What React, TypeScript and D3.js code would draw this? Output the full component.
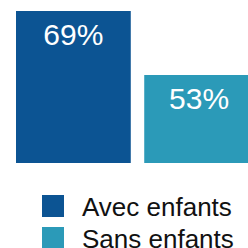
import { useEffect, useRef } from "react";
import * as d3 from "d3";

const categories = ["Avec enfants", "Sans enfants"];
const values = [69, 53];
const colors = ["#0c5493", "#2b9ab8"];

export default function App() {
  const svgRef = useRef<SVGSVGElement>(null);

  useEffect(() => {
    const width = 248,
      height = 248;
    const svg = d3.select(svgRef.current);
    svg.selectAll("*").remove();
    svg.attr("width", width).attr("height", height);

    const x = d3.scaleBand<string>()
      .domain(categories)
      .range([16, 259])
      .paddingInner(0.105)
      .paddingOuter(0);

    const y = d3.scaleLinear().domain([31, 69]).range([163, 11]);

    const g = svg.append("g");
    g.selectAll("rect")
      .data(values)
      .join("rect")
      .attr("x", (d, i) => x(categories[i])!)
      .attr("y", (d) => y(d))
      .attr("width", x.bandwidth())
      .attr("height", (d) => y(31) - y(d))
      .style("fill", (d, i) => colors[i]);

    // value labels
    g.selectAll("text")
      .data(values)
      .join("text")
      .attr("x", (d, i) => x(categories[i])! + x.bandwidth() / 2 - (i === 1 ? 2.5 : 0))
      .attr("y", (d) => y(d) + 34)
      .attr("text-anchor", "middle")
      .style("font-family", "'Liberation Sans', Arial, sans-serif")
      .style("font-size", "30px")
      .style("fill", "#fff")
      .text((d) => `${d}%`);

    // legend
    const legend = svg.append("g").attr("transform", "translate(42,195)");
    const items = legend.selectAll("g")
      .data(categories)
      .join("g")
      .attr("transform", (d, i) => `translate(0,${i * 32})`);
    items.append("rect")
      .attr("width", 22)
      .attr("height", 22)
      .style("fill", (d, i) => colors[i]);
    items.append("text")
      .attr("x", 40)
      .attr("y", 21)
      .style("font-family", "'Liberation Sans', Arial, sans-serif")
      .style("font-size", "26px")
      .style("fill", "#111")
      .text((d) => d);
  }, []);

  return (
    <svg ref={svgRef} style={{ position: "absolute", left: 0, top: 0 }}></svg>
  );
}
